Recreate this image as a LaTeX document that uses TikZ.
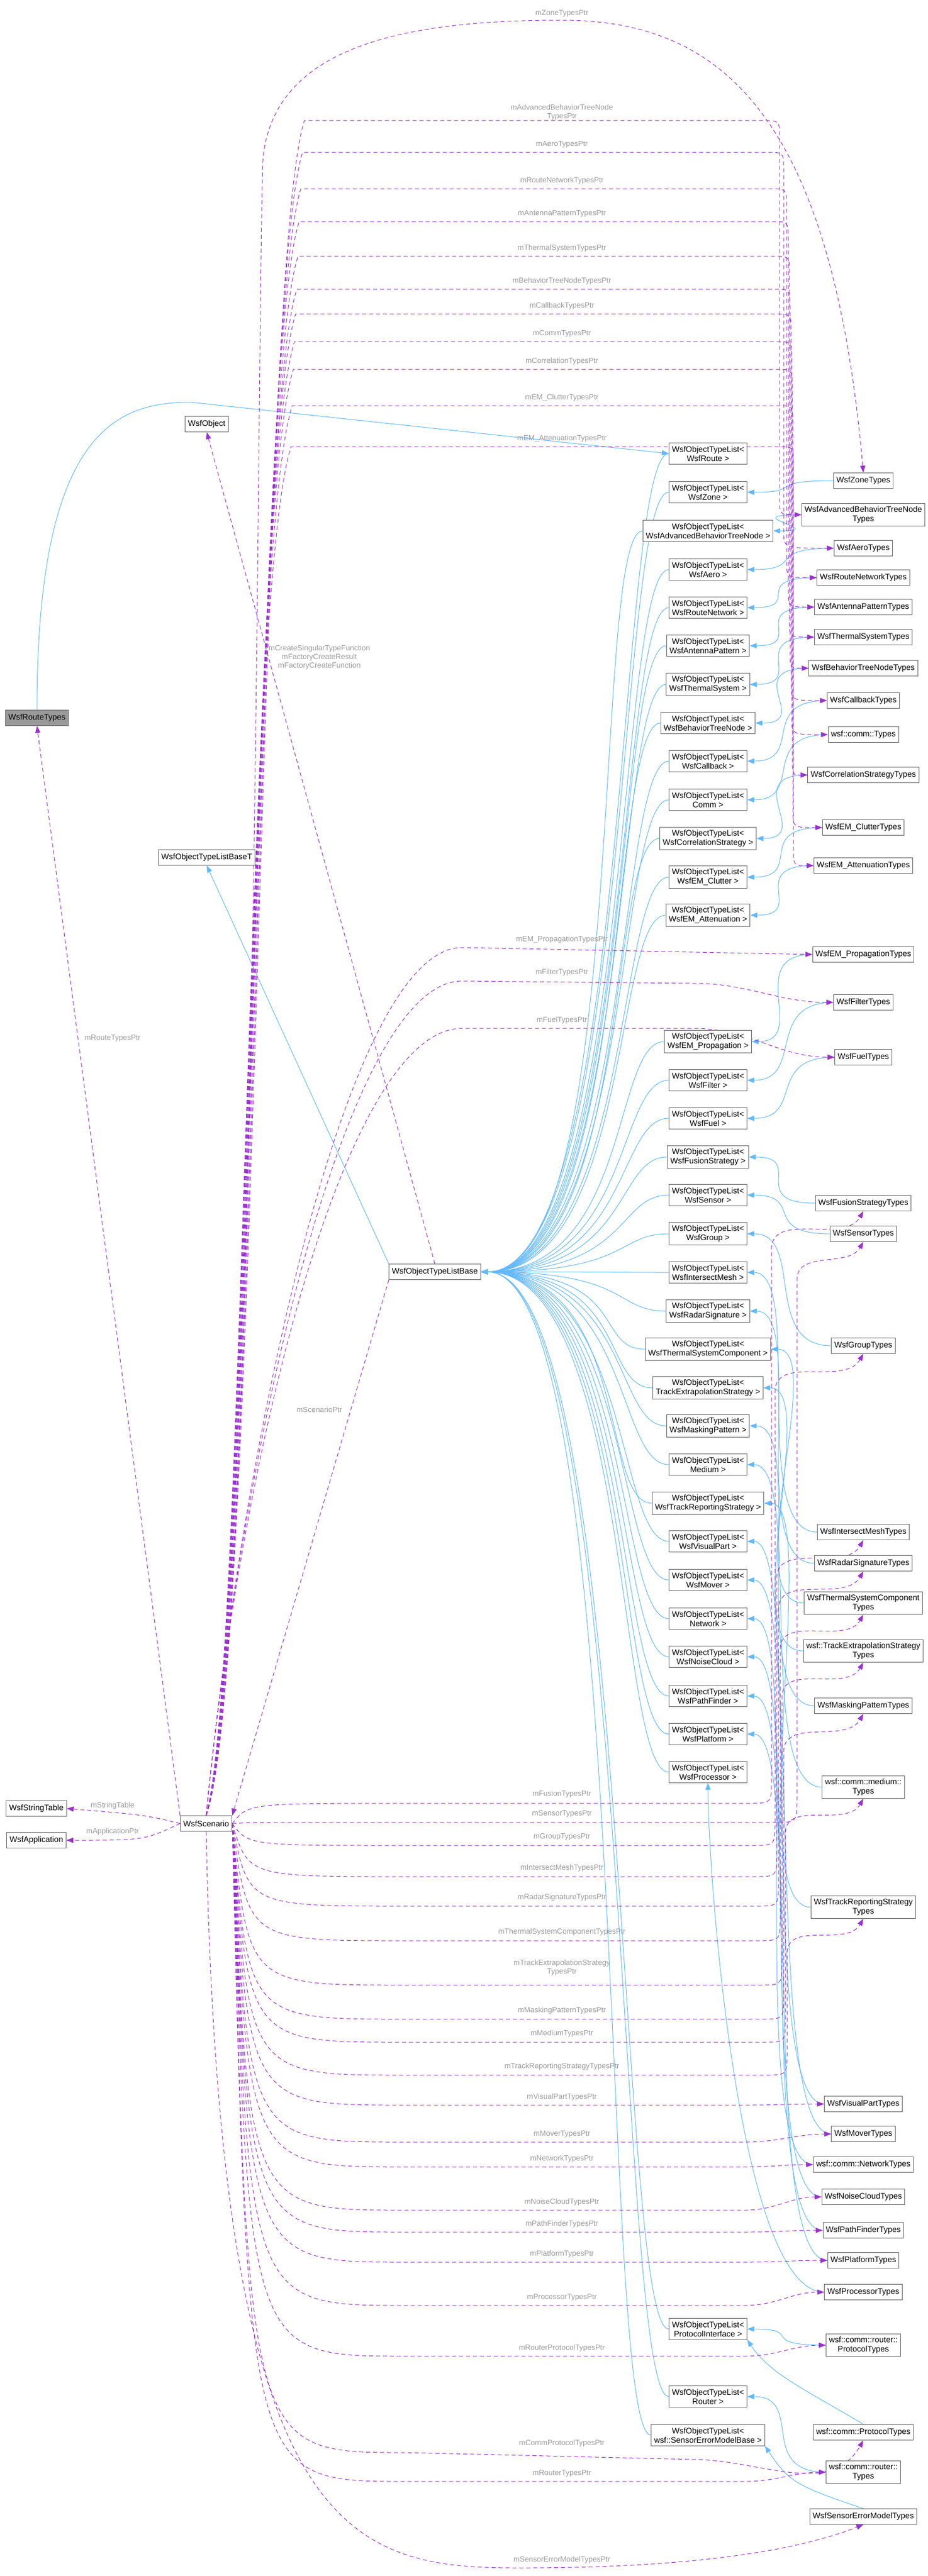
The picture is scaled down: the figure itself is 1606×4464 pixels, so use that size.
\documentclass[tikz,border=0pt]{standalone}
\usepackage{fontspec}
\setmainfont{Liberation Sans}
\usetikzlibrary{arrows.meta}
\definecolor{edgeblue}{HTML}{63B8FF}
\definecolor{deppurple}{HTML}{9A32CD}
\definecolor{boxgray}{HTML}{666666}
\definecolor{lblgray}{HTML}{9A9A9A}
\definecolor{curfill}{HTML}{999999}
\pgfdeclarelayer{bg}
\pgfsetlayers{bg,main}
\tikzset{
 box/.style={draw=boxgray, line width=1pt, fill=white, font=\fontsize{14}{16}\selectfont, align=center, inner xsep=5pt, inner ysep=5pt, minimum height=27pt},
 lst/.style={box},
 lbl/.style={font=\fontsize{13}{15}\selectfont, text=lblgray, align=center, inner sep=1pt},
 inh/.style={draw=edgeblue, line width=1pt, -{Triangle[length=12pt,width=9pt]}},
 dep/.style={draw=deppurple, line width=1pt, dash pattern=on 7pt off 5pt, -{Triangle[length=12pt,width=9pt]}},
}
% upper dashed edges: target, line y, bundle x, target y, vertical x, label
\newcommand\upE[6]{%
 \draw[dep] (scen.north) .. controls (#3,2900) and (#3,{#2+250}) .. ({#3+80},#2) -- ({#5-30},#2) .. controls (#5,#2) .. (#5,{#2+30}) -- (#5,{#4-30}) .. controls (#5,#4) .. (#1.west);
 \node[lbl] at (973,{#2-14}) {#6};}
% lower dashed edge to west: target, line y, label y, label
\newcommand\loW[4]{%
 \draw[dep] (scen.east) .. controls (430,#2) .. (700,#2) -- (1290,#2) to[out=0,in=180] (#1.west);
 \node[lbl] at (973,#3) {#4};}
% lower dashed edge to south: target, line y, target y, vertical x, label y, label
\newcommand\loS[6]{%
 \draw[dep] (scen.east) .. controls (430,#2) .. (700,#2) -- ({#4-40},#2) .. controls (#4,#2) .. (#4,{#2-40}) -- (#4,{#3+80}) to[out=90,in=-120] (#1.south);
 \node[lbl] at (973,#5) {#6};}
\begin{document}
\begin{tikzpicture}[x=1pt,y=-1pt]
\useasboundingbox (0,0) rectangle (1606,4464);
% left nodes
\node[box, fill=curfill] (route) at (64,1244) {WsfRouteTypes};
\node[box] (obj) at (358,735) {WsfObject};
\node[box] (baseT) at (358,1486) {WsfObjectTypeListBaseT};
\node[box] (base) at (753,2204) {WsfObjectTypeListBase};
\node[box] (strt) at (63,3134) {WsfStringTable};
\node[box] (app) at (63,3189) {WsfApplication};
\node[box] (scen) at (357,3160) {WsfScenario};
% middle lists
\node[lst] (lRoute) at (1226,786) {WsfObjectTypeList<\\WsfRoute >};
\node[lst] (lZone) at (1226,853) {WsfObjectTypeList<\\WsfZone >};
\node[lst] (lAdv) at (1226,920) {WsfObjectTypeList<\\WsfAdvancedBehaviorTreeNode >};
\node[lst] (lAero) at (1226,987) {WsfObjectTypeList<\\WsfAero >};
\node[lst] (lRN) at (1226,1053) {WsfObjectTypeList<\\WsfRouteNetwork >};
\node[lst] (lAnt) at (1226,1119) {WsfObjectTypeList<\\WsfAntennaPattern >};
\node[lst] (lTher) at (1226,1186) {WsfObjectTypeList<\\WsfThermalSystem >};
\node[lst] (lBTN) at (1226,1253) {WsfObjectTypeList<\\WsfBehaviorTreeNode >};
\node[lst] (lCb) at (1226,1319) {WsfObjectTypeList<\\WsfCallback >};
\node[lst] (lComm) at (1226,1386) {WsfObjectTypeList<\\Comm >};
\node[lst] (lCorr) at (1226,1453) {WsfObjectTypeList<\\WsfCorrelationStrategy >};
\node[lst] (lClut) at (1226,1520) {WsfObjectTypeList<\\WsfEM\_Clutter >};
\node[lst] (lAtt) at (1226,1586) {WsfObjectTypeList<\\WsfEM\_Attenuation >};
\node[lst] (lProp) at (1226,1805) {WsfObjectTypeList<\\WsfEM\_Propagation >};
\node[lst] (lFilt) at (1226,1872) {WsfObjectTypeList<\\WsfFilter >};
\node[lst] (lFuel) at (1226,1938) {WsfObjectTypeList<\\WsfFuel >};
\node[lst] (lFus) at (1226,2005) {WsfObjectTypeList<\\WsfFusionStrategy >};
\node[lst] (lSens) at (1226,2071) {WsfObjectTypeList<\\WsfSensor >};
\node[lst] (lGrp) at (1226,2138) {WsfObjectTypeList<\\WsfGroup >};
\node[lst] (lIM) at (1226,2205) {WsfObjectTypeList<\\WsfIntersectMesh >};
\node[lst] (lRS) at (1226,2272) {WsfObjectTypeList<\\WsfRadarSignature >};
\node[lst] (lTSC) at (1226,2338) {WsfObjectTypeList<\\WsfThermalSystemComponent >};
\node[lst] (lTE) at (1226,2405) {WsfObjectTypeList<\\TrackExtrapolationStrategy >};
\node[lst] (lMask) at (1226,2471) {WsfObjectTypeList<\\WsfMaskingPattern >};
\node[lst] (lMed) at (1226,2538) {WsfObjectTypeList<\\Medium >};
\node[lst] (lTR) at (1226,2605) {WsfObjectTypeList<\\WsfTrackReportingStrategy >};
\node[lst] (lVP) at (1226,2671) {WsfObjectTypeList<\\WsfVisualPart >};
\node[lst] (lMov) at (1226,2738) {WsfObjectTypeList<\\WsfMover >};
\node[lst] (lNet) at (1226,2805) {WsfObjectTypeList<\\Network >};
\node[lst] (lNC) at (1226,2871) {WsfObjectTypeList<\\WsfNoiseCloud >};
\node[lst] (lPF) at (1226,2939) {WsfObjectTypeList<\\WsfPathFinder >};
\node[lst] (lPlat) at (1226,3005) {WsfObjectTypeList<\\WsfPlatform >};
\node[lst] (lProc) at (1226,3071) {WsfObjectTypeList<\\WsfProcessor >};
\node[lst] (lPI) at (1226,4036) {WsfObjectTypeList<\\ProtocolInterface >};
\node[lst] (lRouter) at (1226,4153) {WsfObjectTypeList<\\Router >};
\node[lst] (lSEMB) at (1226,4220) {WsfObjectTypeList<\\wsf::SensorErrorModelBase >};
% right types
\node[box] (tZone) at (1495,833) {WsfZoneTypes};
\node[box] (tAdv) at (1495,892) {WsfAdvancedBehaviorTreeNode\\Types};
\node[box] (tAero) at (1495,950) {WsfAeroTypes};
\node[box] (tRN) at (1495,1001) {WsfRouteNetworkTypes};
\node[box] (tAnt) at (1495,1052) {WsfAntennaPatternTypes};
\node[box] (tTher) at (1495,1104) {WsfThermalSystemTypes};
\node[box] (tBTN) at (1495,1158) {WsfBehaviorTreeNodeTypes};
\node[box] (tCb) at (1495,1214) {WsfCallbackTypes};
\node[box] (tComm) at (1495,1273) {wsf::comm::Types};
\node[box] (tCorr) at (1495,1343) {WsfCorrelationStrategyTypes};
\node[box] (tClut) at (1495,1434) {WsfEM\_ClutterTypes};
\node[box] (tAtt) at (1495,1500) {WsfEM\_AttenuationTypes};
\node[box] (tProp) at (1495,1654) {WsfEM\_PropagationTypes};
\node[box] (tFilt) at (1495,1737) {WsfFilterTypes};
\node[box] (tFuel) at (1495,1832) {WsfFuelTypes};
\node[box] (tFus) at (1495,2085) {WsfFusionStrategyTypes};
\node[box] (tSens) at (1495,2138) {WsfSensorTypes};
\node[box] (tGrp) at (1495,2332) {WsfGroupTypes};
\node[box] (tIM) at (1495,2655) {WsfIntersectMeshTypes};
\node[box] (tRS) at (1495,2709) {WsfRadarSignatureTypes};
\node[box] (tTSC) at (1495,2778) {WsfThermalSystemComponent\\Types};
\node[box] (tTE) at (1495,2861) {wsf::TrackExtrapolationStrategy\\Types};
\node[box] (tMask) at (1495,2956) {WsfMaskingPatternTypes};
\node[box] (tMed) at (1495,3097) {wsf::comm::medium::\\Types};
\node[box] (tTR) at (1495,3305) {WsfTrackReportingStrategy\\Types};
\node[box] (tVP) at (1495,3646) {WsfVisualPartTypes};
\node[box] (tMov) at (1495,3698) {WsfMoverTypes};
\node[box] (tNet) at (1495,3751) {wsf::comm::NetworkTypes};
\node[box] (tNC) at (1495,3807) {WsfNoiseCloudTypes};
\node[box] (tPF) at (1495,3865) {WsfPathFinderTypes};
\node[box] (tPlat) at (1495,3917) {WsfPlatformTypes};
\node[box] (tProc) at (1495,3972) {WsfProcessorTypes};
\node[box] (tRP) at (1495,4064) {wsf::comm::router::\\ProtocolTypes};
\node[box] (tCP) at (1495,4215) {wsf::comm::ProtocolTypes};
\node[box] (tRT) at (1495,4284) {wsf::comm::router::\\Types};
\node[box] (tSEM) at (1495,4361) {WsfSensorErrorModelTypes};

\begin{pgfonlayer}{bg}
% lists -> base
\foreach \n in {lRoute,lZone,lAdv,lAero,lRN,lAnt,lTher,lBTN,lCb,lComm,lCorr,lClut,lAtt,lProp,lFilt,lFuel,lFus,lSens,lGrp,lIM,lRS,lTSC,lTE,lMask,lMed,lTR,lVP,lMov,lNet,lNC,lPF,lPlat,lProc,lPI,lRouter,lSEMB}
  \draw[inh] (\n.west) .. controls +(-90,0) and +(260,0) .. (base.east);
% types -> lists
\foreach \t/\l in {tZone/lZone,tAdv/lAdv,tAero/lAero,tRN/lRN,tAnt/lAnt,tTher/lTher,tBTN/lBTN,tCb/lCb,tComm/lComm,tCorr/lCorr,tClut/lClut,tAtt/lAtt,tProp/lProp,tFilt/lFilt,tFuel/lFuel,tFus/lFus,tSens/lSens,tGrp/lGrp,tIM/lIM,tRS/lRS,tTSC/lTSC,tTE/lTE,tMask/lMask,tMed/lMed,tTR/lTR,tVP/lVP,tMov/lMov,tNet/lNet,tNC/lNC,tPF/lPF,tPlat/lPlat,tRP/lPI,tRT/lRouter}
  \draw[inh] (\t.west) .. controls +(-120,0) and +(100,0) .. (\l.east);
\draw[inh] (tProc.west) .. controls +(-150,0) and +(0,150) .. (lProc.south);
\draw[inh] (tCP.north) .. controls +(-100,-60) and +(40,60) .. (lPI.south east);
\draw[inh] (tSEM.north) .. controls +(-120,-40) and +(40,60) .. (lSEMB.south east);
\draw[inh] (route.north) .. controls (64,750) and (200,697) .. (330,697) -- (lRoute.west);
\draw[inh] (base.north west) -- (baseT.south);
% dependency edges
\draw[dep] (base.south west) -- (scen.north east);
\node[lbl] at (553,2443) {mScenarioPtr};
\draw[dep] (base.north) -- (obj.south);
\node[lbl] at (553,1139) {mCreateSingularTypeFunction\\mFactoryCreateResult\\mFactoryCreateFunction};
\draw[dep] (scen.north west) -- (route.south);
\node[lbl] at (195,1799) {mRouteTypesPtr};
\draw[dep] (scen.west) .. controls (250,3145) .. (strt.east);
\node[lbl] at (195,3129) {mStringTable};
\draw[dep] (scen.west) .. controls (250,3189) .. (app.east);
\node[lbl] at (195,3174) {mApplicationPtr};
% upper
\draw[dep] (scen.north) .. controls (445,2900) and (445,600) .. (455,280) .. controls (470,80) and (700,35) .. (973,35) .. controls (1250,35) and (1440,200) .. (tZone.north);
\node[lbl] at (973,23) {mZoneTypesPtr};
\upE{tAdv}{209}{447}{892}{1350}{mAdvancedBehaviorTreeNode\\TypesPtr}
\upE{tAero}{264}{444}{950}{1357}{mAeroTypesPtr}
\upE{tRN}{327}{441}{1001}{1362}{mRouteNetworkTypesPtr}
\upE{tAnt}{384}{438}{1052}{1365}{mAntennaPatternTypesPtr}
\upE{tTher}{444}{436}{1104}{1367}{mThermalSystemTypesPtr}
\upE{tBTN}{501}{434}{1158}{1368}{mBehaviorTreeNodeTypesPtr}
\upE{tCb}{544}{432}{1214}{1370}{mCallbackTypesPtr}
\upE{tComm}{592}{430}{1273}{1371}{mCommTypesPtr}
\upE{tCorr}{640}{428}{1343}{1372}{mCorrelationTypesPtr}
\upE{tClut}{703}{426}{1434}{1373}{mEM\_ClutterTypesPtr}
\upE{tAtt}{774}{424}{1500}{1374}{mEM\_AttenuationTypesPtr}
\draw[dep] (scen.north) .. controls (420,2500) and (600,1642) .. (800,1642) -- (tProp.west);
\node[lbl] at (973,1628) {mEM\_PropagationTypesPtr};
\draw[dep] (scen.north) .. controls (420,2500) and (600,1700) .. (800,1700) -- (1200,1704) to[out=0,in=180] (tFilt.west);
\node[lbl] at (973,1685) {mFilterTypesPtr};
\draw[dep] (scen.north) .. controls (420,2500) and (600,1782) .. (800,1782) -- (1200,1782) to[out=0,in=180] (tFuel.west);
\node[lbl] at (973,1768) {mFuelTypesPtr};
% lower
\loS{tFus}{3125}{2085}{1336}{3109}{mFusionTypesPtr}
\loS{tSens}{3158}{2138}{1380}{3143}{mSensorTypesPtr}
\loS{tGrp}{3198}{2332}{1342}{3183}{mGroupTypesPtr}
\loS{tIM}{3252}{2655}{1345}{3237}{mIntersectMeshTypesPtr}
\loS{tRS}{3303}{2709}{1348}{3288}{mRadarSignatureTypesPtr}
\loS{tTSC}{3363}{2778}{1351}{3348}{mThermalSystemComponentTypesPtr}
\loS{tTE}{3440}{2861}{1354}{3410}{mTrackExtrapolationStrategy\\TypesPtr}
\loS{tMask}{3499}{2956}{1357}{3484}{mMaskingPatternTypesPtr}
\loS{tMed}{3539}{3097}{1360}{3524}{mMediumTypesPtr}
\loS{tTR}{3596}{3305}{1363}{3581}{mTrackReportingStrategyTypesPtr}
\loW{tVP}{3648}{3634}{mVisualPartTypesPtr}
\loW{tMov}{3712}{3698}{mMoverTypesPtr}
\loW{tNet}{3755}{3741}{mNetworkTypesPtr}
\loW{tNC}{3830}{3816}{mNoiseCloudTypesPtr}
\loW{tPF}{3868}{3854}{mPathFinderTypesPtr}
\loW{tPlat}{3920}{3906}{mPlatformTypesPtr}
\loW{tProc}{3995}{3981}{mProcessorTypesPtr}
\loW{tRP}{4083}{4069}{mRouterProtocolTypesPtr}
\draw[dep] (scen.east) .. controls (430,4250) .. (700,4250) -- (1200,4262) to[out=0,in=-120] (tCP.south);
\node[lbl] at (973,4234) {mCommProtocolTypesPtr};
\loW{tRT}{4300}{4286}{mRouterTypesPtr}
\draw[dep] (scen.south) .. controls (380,4400) and (600,4450) .. (900,4450) .. controls (1200,4450) and (1380,4420) .. (tSEM.south);
\node[lbl] at (973,4436) {mSensorErrorModelTypesPtr};
\end{pgfonlayer}
\end{tikzpicture}
\end{document}
